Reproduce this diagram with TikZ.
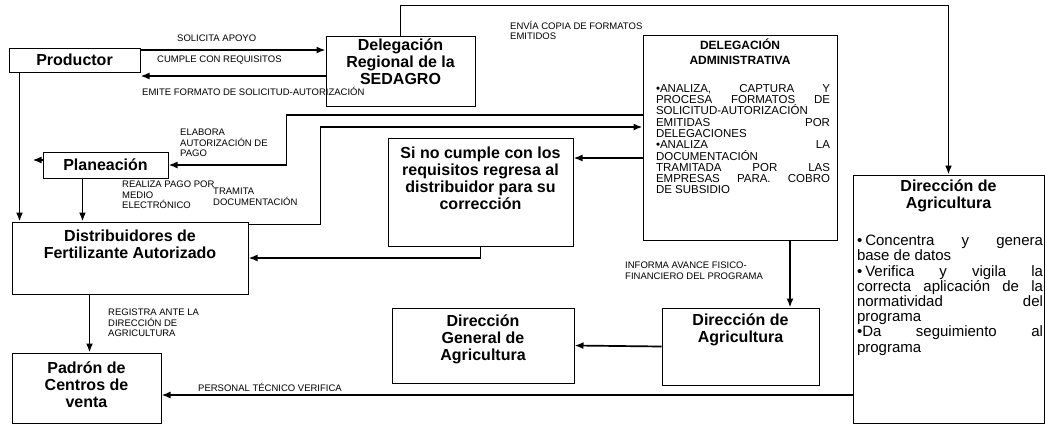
\documentclass[tikz,border=0pt]{standalone}
\usepackage{amsmath}
\usepackage{fontspec}
\setmainfont{Liberation Sans}
\usepackage{tikz}
\usepackage{xcolor}
\usetikzlibrary{arrows.meta}

\tikzset{
caja/.style={draw, line width=1pt, inner sep=0pt},
titulo/.style={font=\bfseries\fontsize{16}{17}\selectfont, align=center, inner sep=0pt},
texto/.style={align=justify, inner sep=0pt, anchor=north},
etiqueta/.style={font=\fontsize{9.5}{10.5}\selectfont, align=left, anchor=north west, inner sep=0pt},
flujo/.style={line width=1.7pt, -{Latex[length=9pt,width=7pt]}}
}

\begin{document}
\begin{tikzpicture}[x=1pt,y=-1pt]
\useasboundingbox (0,0) rectangle (1045,424);

\node[caja, titulo, minimum width=131pt, minimum height=24pt] (prod) at (74.5,60) {Productor};
\node[caja, minimum width=149pt, minimum height=70pt] (delreg) at (400.5,71) {};
\node[titulo] (delregT) at (400.5,62) {Delegación\\Regional de la\\SEDAGRO};

\node[caja, minimum width=194pt, minimum height=205pt] (delad) at (740,137.5) {};
\node[titulo, font=\bfseries\fontsize{12}{15}\selectfont] (deladT) at (740,52) {DELEGACIÓN\\ADMINISTRATIVA};
\node[texto, text width=174pt, font=\fontsize{11.5}{11.3}\selectfont] (deladB) at (743,84) {•ANALIZA, CAPTURA Y\linebreak PROCESA FORMATOS DE\linebreak SOLICITUD-AUTORIZACIÓN\newline EMITIDAS POR\linebreak DELEGACIONES\newline •ANALIZA LA\linebreak DOCUMENTACIÓN\newline TRAMITADA POR LAS\linebreak EMPRESAS PARA. COBRO\linebreak DE SUBSIDIO};

\node[caja, titulo, minimum width=125pt, minimum height=26pt] (plan) at (105.5,165) {Planeación};
\node[caja, minimum width=185pt, minimum height=108pt] (sino) at (480.5,192) {};
\node[titulo] (sinoT) at (480.5,178) {Si no cumple con los\\requisitos regresa al\\distribuidor para su\\corrección};

\node[caja, minimum width=236pt, minimum height=72pt] (dist) at (130,258) {};
\node[titulo] (distT) at (130,244) {Distribuidores de\\Fertilizante Autorizado};
\node[caja, minimum width=149pt, minimum height=70pt] (padron) at (86.5,388) {};
\node[titulo] (padronT) at (86.5,385) {Padrón de\\Centros de\\venta};

\node[caja, minimum width=182pt, minimum height=75pt] (dirgen) at (483,345.5) {};
\node[titulo] (dirgenT) at (483,339) {Dirección\\General de\\Agricultura};
\node[caja, minimum width=157pt, minimum height=77pt] (diragr) at (740.5,346.5) {};
\node[titulo] (diragrT) at (740.5,330) {Dirección de\\Agricultura};

\node[caja, minimum width=191pt, minimum height=248pt] (dirder) at (948.5,299) {};
\node[titulo] (dirderT) at (948.5,196) {Dirección de\\Agricultura};
\node[texto, text width=186pt, font=\fontsize{15}{15.2}\selectfont] (dirderB) at (950,235) {•\kern3pt Concentra y genera\linebreak base de datos\newline •\kern3pt Verifica y vigila la\linebreak correcta aplicación de la\linebreak normatividad del\linebreak programa\newline •Da seguimiento al\linebreak programa};

\coordinate (solA) at ([yshift=10pt]prod.east);
\coordinate (cumA) at ([yshift=-16pt]prod.east);
\draw[flujo] (solA) -- (solA -| delreg.west);
\draw[flujo] (cumA -| delreg.west) -- (cumA);
\draw[flujo] (delreg.north) -- ++(0,-30) -| (dirder.north);

\coordinate (elaA) at ([yshift=22.5pt]delad.west);
\draw[flujo] (elaA) -- ++(-356,0) |- (plan.east);
\coordinate (traA) at ([yshift=-3pt]dist.north east);
\draw[flujo] (traA) -- ++(72,0) |- ([yshift=10.5pt]delad.west);
\coordinate (corA) at ([yshift=-20.5pt]delad.west);
\draw[flujo] (corA) -- (corA -| sino.east);
\draw[flujo] (sino.south) |- (dist.east);

\coordinate (prodA) at ([xshift=11pt]prod.south west);
\draw[flujo] (prodA) -- (prodA |- dist.north);
\coordinate (planA) at ([xshift=-23pt]plan.south);
\draw[flujo] (planA) -- (planA |- dist.north);
\coordinate (planB) at ([yshift=5pt]plan.west);
\draw[flujo] (planB) -- ++(-10,0);
\coordinate (distA) at ([xshift=78pt]dist.south west);
\draw[flujo] (distA) -- (distA |- padron.north);

\coordinate (perA) at ([yshift=-96pt]dirder.west);
\draw[flujo] (perA) -- (perA -| padron.east);
\coordinate (infA) at ([xshift=50pt]delad.south);
\draw[flujo] (infA) -- (infA |- diragr.north);
\draw[flujo] (diragr.west) -- (dirgen.east);

\node[etiqueta] (solT) at (177,35) {SOLICITA APOYO};
\node[etiqueta] (cumT) at (157,56) {CUMPLE CON REQUISITOS};
\node[etiqueta] (emiT) at (142,87) {EMITE FORMATO DE SOLICITUD-AUTORIZACIÓN};
\node[etiqueta] (envT) at (510,21) {ENVÍA COPIA DE FORMATOS\\EMITIDOS};
\node[etiqueta] (elaT) at (180,129) {ELABORA\\AUTORIZACIÓN DE\\PAGO};
\node[etiqueta] (reaT) at (122,181) {REALIZA PAGO POR\\MEDIO\\ELECTRÓNICO};
\node[etiqueta] (traT) at (213,188) {TRAMITA\\DOCUMENTACIÓN};
\node[etiqueta] (regT) at (108,309) {REGISTRA ANTE LA\\DIRECCIÓN DE\\AGRICULTURA};
\node[etiqueta] (perT) at (198,383) {PERSONAL TÉCNICO VERIFICA};
\node[etiqueta] (infT) at (625,262) {INFORMA AVANCE FISICO-\\FINANCIERO DEL PROGRAMA};

\end{tikzpicture}
\end{document}
